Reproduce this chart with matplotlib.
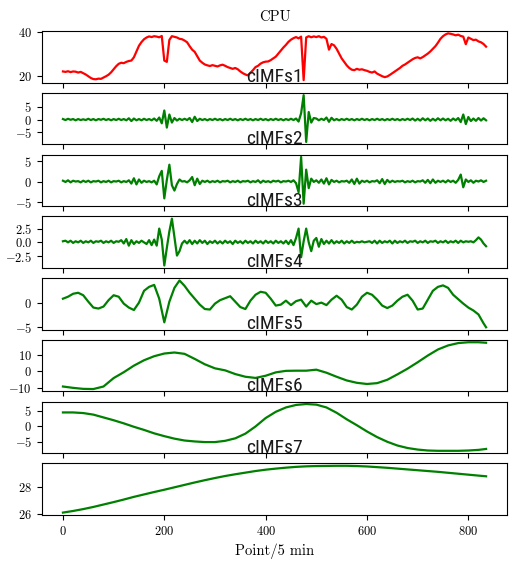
import numpy as np
import matplotlib
matplotlib.use("Agg")
import matplotlib.pyplot as plt
from matplotlib import font_manager

plt.rcParams["font.family"] = "serif"
plt.rcParams["font.serif"] = ["cmr10"]
plt.rcParams["mathtext.fontset"] = "cm"
plt.rcParams["axes.formatter.use_mathtext"] = True

# sample positions (5-minute points)
t_fast = np.arange(0, 836, 5)
t_mid = np.append(np.arange(0, 831, 10), 835)
t_slow = np.append(np.arange(0, 821, 20), 835)

# original CPU series
cpu = [
    22.0, 21.8, 22.1, 21.7, 22.0, 21.9, 21.5, 21.8, 21.2, 20.6,
    19.8, 19.0, 18.5, 18.4, 18.7, 18.6, 19.2, 19.8, 20.5, 21.6,
    23.0, 24.4, 25.5, 26.0, 25.8, 26.4, 26.8, 27.0, 28.5, 31.2,
    33.8, 35.5, 36.8, 37.6, 38.1, 37.8, 38.2, 38.0, 37.7, 38.3,
    27.0, 26.4, 36.5, 38.2, 37.9, 37.6, 37.0, 36.8, 36.2, 35.4,
    33.6, 32.0, 31.0, 29.0, 27.0, 26.0, 25.2, 24.8, 24.5, 24.9,
    24.6, 24.3, 24.8, 25.1, 24.6, 24.0, 23.6, 23.2, 23.6, 23.0,
    22.0, 21.2, 20.6, 20.2, 21.4, 22.6, 24.0, 24.6, 25.6, 26.2,
    26.5, 26.6, 27.2, 28.0, 28.8, 30.2, 31.6, 33.0, 34.2, 35.6,
    36.6, 37.3, 37.8, 37.2, 38.0, 18.0, 37.6, 38.2, 37.7, 38.1,
    37.8, 38.2, 37.6, 37.9, 37.0, 32.0, 34.6, 34.0, 32.4, 30.2,
    28.0, 26.4, 24.8, 23.6, 22.8, 22.6, 23.2, 22.8, 23.0, 22.6,
    22.3, 21.8, 21.5, 22.0, 21.0, 20.4, 19.8, 19.4, 19.7, 20.4,
    21.2, 22.0, 22.8, 23.6, 24.6, 25.2, 26.0, 26.8, 27.6, 28.2,
    28.5, 28.0, 28.6, 29.4, 30.2, 31.2, 32.4, 33.6, 35.2, 37.0,
    38.2, 39.0, 39.5, 39.3, 39.0, 38.6, 38.9, 38.3, 38.0, 34.5,
    37.6, 37.0, 36.4, 36.6, 35.8, 35.4, 34.6, 33.4,
]

imf2 = [
    0.2, -0.2, 0.3, -0.1, 0.2, -0.3, 0.2, -0.2, 0.1, -0.2,
    0.3, -0.2, 0.2, -0.3, 0.2, -0.1, 0.3, -0.2, 0.2, -0.3,
    0.2, -0.2, 0.3, -0.2, 0.2, -0.3, 0.5, -0.6, 0.4, -0.3,
    0.2, -0.3, 0.3, -0.2, 0.2, -0.3, 0.4, -0.5, 0.8, -1.5,
    3.6, -3.2, 2.0, -1.2, 0.6, -0.4, 0.3, -0.2, 0.3, -0.2,
    0.6, -1.0, 1.1, -0.6, 0.3, -0.2, 0.2, -0.3, 0.2, -0.2,
    0.3, -0.2, 0.2, -0.3, 0.2, -0.2, 0.3, -0.2, 0.2, -0.3,
    0.2, -0.2, 0.3, -0.2, 0.2, -0.3, 0.2, -0.2, 0.3, -0.2,
    0.2, -0.3, 0.2, -0.2, 0.3, -0.2, 0.2, -0.3, 0.2, -0.2,
    0.3, -0.2, 0.4, -0.8, 2.5, 9.7, -8.9, 3.0, -1.2, 0.6,
    0.4, -0.3, 0.3, -0.2, 0.8, -0.9, 0.7, -0.3, 0.2, -0.3,
    0.2, -0.2, 0.3, -0.2, 0.2, -0.3, 0.2, -0.2, 0.3, -0.2,
    0.2, -0.3, 0.2, -0.2, 0.3, -0.2, 0.2, -0.3, 0.2, -0.2,
    0.3, -0.2, 0.2, -0.3, 0.2, -0.2, 0.3, -0.2, 0.4, -0.4,
    0.3, -0.4, 0.5, -0.3, 0.4, -0.5, 0.3, -0.4, 0.5, -0.3,
    0.4, -0.3, 0.3, -0.5, 0.4, -0.3, 0.6, -1.0, 2.0, -1.8,
    1.0, -0.6, 0.4, -0.5, 0.6, -0.4, 0.5, -0.3,
]

imf3 = [
    0.3, 0.0, 0.4, -0.1, 0.3, 0.1, 0.2, -0.1, 0.3, 0.0,
    0.3, -0.1, 0.2, 0.1, 0.3, -0.1, 0.2, 0.0, 0.3, -0.1,
    0.2, 0.1, 0.3, -0.1, 0.2, 0.0, 0.4, -0.4, 0.9, -0.6,
    0.6, -0.2, 0.3, 0.0, 0.2, -0.1, 0.3, -0.6, 1.4, 2.7,
    -4.0, 0.5, 4.2, -0.8, -2.1, -0.5, 0.6, 0.1, 0.2, -0.1,
    0.4, 1.2, -0.8, 0.8, -0.5, 0.3, 0.0, 0.3, -0.1, 0.2,
    0.0, 0.3, -0.1, 0.2, 0.1, 0.3, -0.1, 0.2, 0.0, 0.3,
    -0.1, 0.2, 0.1, 0.3, -0.1, 0.2, 0.0, 0.4, -0.2, 0.3,
    0.0, 0.2, -0.1, 0.3, 0.1, 0.3, -0.1, 0.2, 0.1, 0.3,
    0.0, 0.4, -0.3, -2.5, 6.1, -5.3, 3.0, -1.5, 0.8, 0.0,
    0.4, -0.2, 0.6, -0.4, 0.9, -0.6, 0.5, 0.0, 0.3, -0.1,
    0.2, 0.1, 0.3, -0.2, 0.6, -0.5, 0.8, -0.4, 0.3, 0.0,
    0.3, -0.1, 0.2, 0.1, 0.4, -0.3, 0.7, -0.5, 0.5, -0.1,
    0.3, 0.0, 0.2, 0.1, 0.3, -0.1, 0.2, 0.0, 0.3, -0.1,
    0.2, 0.1, 0.4, -0.2, 0.5, -0.3, 0.6, -0.2, 0.3, 0.0,
    0.3, -0.1, 0.4, 0.0, 0.3, -0.2, 0.5, 1.8, -1.3, 0.6,
    0.0, 0.4, -0.2, 0.3, 0.1, 0.4, 0.0, 0.3,
]

imf4 = [
    0.2, 0.3, 0.0, 0.3, -0.1, 0.2, 0.0, 0.3, -0.1, 0.2,
    0.0, 0.3, -0.1, 0.2, 0.1, 0.3, -0.1, 0.2, 0.0, 0.3,
    -0.1, 0.2, 0.1, 0.4, -0.2, 0.6, -0.6, 0.4, -0.3, 0.2,
    -0.1, 0.3, 0.0, -0.3, 0.4, -0.5, 0.5, -0.6, 2.5, 0.5,
    -4.2, -1.0, 2.0, 4.3, 1.0, -2.4, -1.6, -0.2, 0.3, -0.2,
    0.4, -0.3, 0.3, -0.2, 0.4, -0.1, 0.3, -0.3, 0.2, -0.1,
    0.3, -0.2, 0.2, -0.2, 0.3, -0.1, 0.2, -0.3, 0.3, -0.1,
    0.2, -0.2, 0.3, -0.1, 0.2, -0.2, 0.3, -0.1, 0.2, -0.2,
    0.3, -0.1, 0.2, -0.2, 0.3, -0.1, 0.2, -0.2, 0.3, -0.3,
    0.4, -0.5, 0.8, 2.5, -2.7, 0.2, 2.5, 0.0, -1.6, 0.3,
    0.8, -0.8, 0.6, -0.3, 0.3, -0.2, 0.4, -0.2, 0.2, -0.1,
    0.3, -0.2, 0.2, -0.1, 0.3, -0.1, 0.1, 0.0, 0.2, 0.0,
    0.1, 0.2, -0.1, 0.3, -0.2, 0.3, -0.1, 0.2, 0.0, 0.3,
    -0.2, 0.3, -0.1, 0.2, 0.0, 0.3, -0.1, 0.2, 0.1, 0.3,
    -0.1, 0.2, 0.0, 0.3, -0.1, 0.2, 0.1, 0.3, -0.1, 0.2,
    0.0, 0.3, -0.1, 0.2, 0.0, 0.3, -0.1, 0.3, 0.0, 0.2,
    0.1, 0.2, 0.0, 0.4, 0.9, 0.5, -0.2, -0.7,
]

imf5 = [
    0.8, 1.2, 1.8, 2.0, 1.5, 0.2, -1.0, -1.2, -0.8, 0.5,
    1.5, 1.2, -0.2, -1.0, -1.5, 0.0, 2.4, 3.2, 3.6, 0.8,
    -4.0, 0.2, 3.0, 4.5, 3.4, 2.0, 0.8, -0.4, -1.3, -1.4,
    -0.2, 0.5, 0.9, 1.3, 0.2, -0.9, -1.3, 0.4, 1.6, 2.2,
    2.0, 0.8, -0.6, -0.4, 0.4, -0.5, 0.3, 0.6, -0.8, 0.4,
    -0.3, 0.0, -0.5, 0.6, 1.4, 0.6, -0.9, -1.4, -0.4, 1.2,
    2.0, 1.6, 0.6, -0.6, -1.1, -0.6, 0.4, 1.2, 1.6, 0.4,
    -1.4, -1.2, 0.6, 2.4, 3.2, 3.5, 3.0, 1.6, 0.7, -0.2,
    -1.0, -1.6, -2.4, -4.2, -5.0,
]

imf6 = [
    -9.0, -9.8, -10.4, -10.5, -9.0, -4.0, -0.5, 3.4, 6.6, 9.0,
    10.6, 11.2, 10.4, 7.4, 4.2, 1.8, 0.6, -1.6, -3.2, -3.9,
    -2.6, -0.6, 0.3, 0.4, 0.4, 1.0, -0.8, -3.2, -5.4, -6.8,
    -7.5, -7.0, -5.0, -1.8, 1.6, 5.4, 9.4, 13.0, 15.4, 16.8,
    17.3, 17.3, 17.0,
]

imf7 = [
    4.4, 4.4, 4.2, 3.7, 2.8, 1.9, 0.9, -0.2, -1.2, -2.3,
    -3.2, -4.0, -4.6, -4.9, -5.1, -5.1, -4.7, -3.9, -2.4, -0.1,
    2.6, 4.6, 6.0, 6.8, 7.1, 6.9, 6.0, 4.3, 2.2, 0.3,
    -1.7, -3.5, -5.0, -6.2, -7.0, -7.5, -7.8, -7.9, -7.9, -7.9,
    -7.8, -7.6, -7.3,
]

imf8 = [
    26.10, 26.22, 26.36, 26.52, 26.70, 26.88, 27.07, 27.27, 27.45, 27.63,
    27.80, 27.98, 28.16, 28.34, 28.51, 28.67, 28.82, 28.95, 29.07, 29.19,
    29.29, 29.37, 29.44, 29.50, 29.54, 29.56, 29.57, 29.58, 29.58, 29.56,
    29.53, 29.48, 29.43, 29.37, 29.31, 29.25, 29.19, 29.13, 29.06, 28.99,
    28.92, 28.85, 28.80,
]

labels = ["cIMFs1", "cIMFs2", "cIMFs3", "cIMFs4", "cIMFs5", "cIMFs6", "cIMFs7", ""]
yticks = [[20, 40], [-5, 0, 5], [-5, 0, 5], [-2.5, 0, 2.5], [-5, 0],
          [-10, 0, 10], [-5, 0, 5], [26, 28]]
xticks = [0, 200, 400, 600, 800]

series = [(t_fast, cpu), (t_fast, imf2), (t_fast, imf3), (t_fast, imf4),
          (t_mid, imf5), (t_slow, imf6), (t_slow, imf7), (t_slow, imf8)]

# narrow sans font for the panel labels, if one is installed
installed = {f.name for f in font_manager.fontManager.ttflist}
label_font, label_size = "DejaVu Sans", 12
for name in ["Liberation Sans Narrow", "DejaVu Sans Condensed", "Roboto Condensed",
             "Open Sans Condensed", "Noto Sans Condensed"]:
    if name in installed:
        label_font, label_size = name, 14
        break

fig, axes = plt.subplots(8, 1, sharex=True, figsize=(5.16, 5.64), dpi=100)
fig.subplots_adjust(left=0.081, right=0.983, top=0.945, bottom=0.087, hspace=0.2)

for i, ax in enumerate(axes):
    t, y = series[i]
    color = "red" if i == 0 else "green"
    ax.plot(t, y, color=color, lw=1.6)
    ax.set_yticks(yticks[i])
    ax.tick_params(labelsize=9)
    if labels[i]:
        ax.text(0.5, 0.01, labels[i], transform=ax.transAxes, ha="center",
                va="baseline", fontsize=label_size, color="#1a1a1a",
                family=[label_font, "DejaVu Sans"], fontstretch="condensed")

axes[0].set_title("CPU", fontsize=10.5, pad=7)
axes[-1].set_xticks(xticks)
axes[-1].set_xlabel("Point/5 min", fontsize=10.5)

fig.savefig("out.png", dpi=100)
